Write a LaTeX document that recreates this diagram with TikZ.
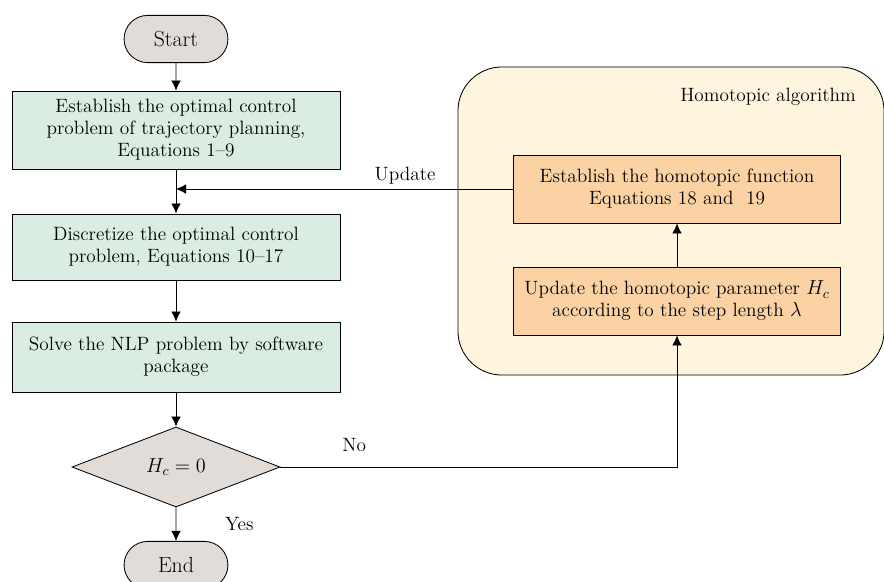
\documentclass[tikz,border=0pt]{standalone}
\usepackage{amsmath}
\usepackage{xcolor}
\usetikzlibrary{shapes, arrows, arrows.meta, positioning, calc}

\definecolor{termgray}{HTML}{E2DCD9}
\definecolor{stepgreen}{HTML}{DBEDE2}
\definecolor{homorange}{HTML}{FAD2A3}
\definecolor{panelcream}{HTML}{FEF5DE}

\tikzset{
    terminal/.style={draw, rounded rectangle, fill=termgray, minimum width=2.83cm, minimum height=1.18cm, font=\fontsize{15.5}{18}\selectfont},
    stepbox/.style={draw, rectangle, fill=stepgreen, minimum width=8.2cm, align=center},
    homobox/.style={draw, rectangle, fill=homorange, minimum width=8.18cm, minimum height=1.7cm, align=center},
    decision/.style={draw, diamond, fill=termgray, minimum width=5.2cm, minimum height=2cm, inner sep=0pt}
}

\begin{document}
\begin{tikzpicture}[x=0.025cm, y=-0.025cm, >={Latex[length=0.25cm, width=0.24cm]}, semithick, font=\fontsize{13.7}{15.6}\selectfont]
    \useasboundingbox (0,0) rectangle (884,581);

    % Homotopic algorithm panel
    \node [draw, rectangle, rounded corners=1.1cm, fill=panelcream, minimum width=10.65cm, minimum height=7.7cm] (panel) at (671,221) {};
    \node [anchor=east] (paneltitle) at (861,97) {Homotopic algorithm};

    % Main flow
    \node [terminal] (start) at (176,39) {Start};
    \node [stepbox, minimum height=1.95cm] (ocp) at (176,130) {Establish the optimal control\\problem of trajectory planning,\\Equations 1--9};
    \node [stepbox, minimum height=1.65cm] (discrete) at (176,247) {Discretize the optimal control\\problem, Equations 10--17};
    \node [stepbox, minimum height=1.75cm] (nlp) at (176,357) {Solve the NLP problem by software\\package};
    \node [decision] (check) at (176,467) {$H_c = 0$};
    \node [terminal] (finish) at (176,565) {End};

    % Homotopic steps
    \node [homobox] (homfun) at (677,189) {Establish the homotopic function\\Equations 18 and~~19};
    \node [homobox] (homparam) at (677,301) {Update the homotopic parameter $H_c$\\according to the step length $\lambda$};

    % Connections
    \draw[->] (start) -- (ocp);
    \draw[->] (ocp) -- (discrete);
    \draw[->] (homfun.west) -- (homfun.west -| ocp.south) node[pos=0.32, above] {Update};
    \draw[->] (discrete) -- (nlp);
    \draw[->] (nlp) -- (check);
    \draw[->] (check) -- (finish) node[midway, right, xshift=1.1cm] {Yes};
    \draw[->] (check.east) -| (homparam.south) node[pos=0.093, above, yshift=0.25cm] {No};
    \draw[->] (homparam) -- (homfun);
\end{tikzpicture}
\end{document}
